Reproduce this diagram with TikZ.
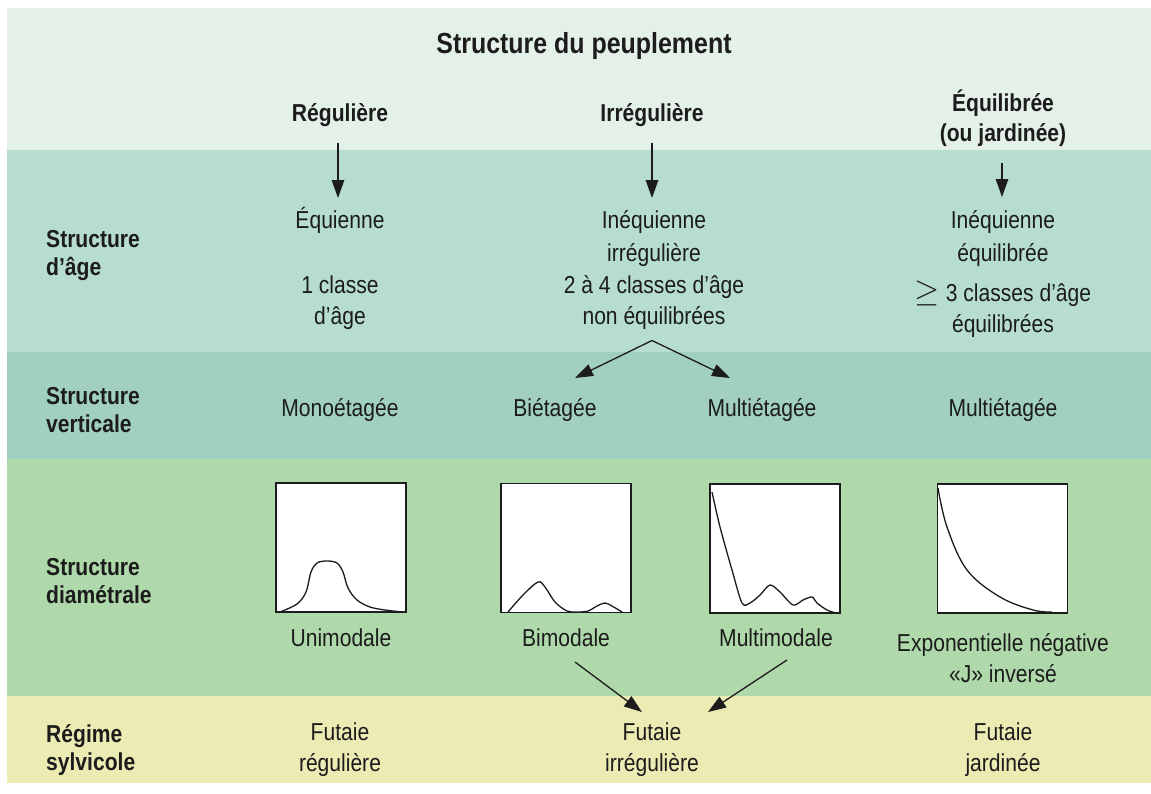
\documentclass[tikz,border=0pt]{standalone}
\usepackage{fontspec}
\usepackage{graphicx}
\setmainfont[FakeStretch=0.86]{Liberation Sans}
\usetikzlibrary{arrows.meta,calc}
\definecolor{bandA}{HTML}{E4F1E8}
\definecolor{bandB}{HTML}{B6DDD0}
\definecolor{bandC}{HTML}{A1D0C3}
\definecolor{bandD}{HTML}{AFD9AA}
\definecolor{bandE}{HTML}{ECEBB4}
\definecolor{ink}{HTML}{1C1C1C}
\begin{document}
\begin{tikzpicture}[x=1pt,y=-1pt,
  every node/.style={inner sep=0pt, text=ink},
  lbl/.style={font=\fontsize{24.5}{28}\selectfont\bfseries, align=left, anchor=west},
  txt/.style={font=\fontsize{24.5}{31}\selectfont, align=center},
  hdr/.style={font=\fontsize{24.5}{30}\selectfont\bfseries, align=center},
  arr/.style={line width=1.3pt, draw=ink, -{Triangle[length=18pt,width=12.5pt]}},
  plotbox/.style={draw=ink, line width=1.6pt, fill=white, minimum width=130pt, minimum height=129pt},
  curve/.style={line width=1.3pt, draw=ink}]
\useasboundingbox (0,0) rectangle (1151,793);
\fill[white] (0,0) rectangle (1151,793);
% bands
\fill[bandA] (7,8) rectangle (1151,150);
\fill[bandB] (7,150) rectangle (1151,352);
\fill[bandC] (7,352) rectangle (1151,459);
\fill[bandD] (7,459) rectangle (1151,696);
\fill[bandE] (7,696) rectangle (1151,783);

% title and column heads
\node[font=\fontsize{29}{30}\selectfont\bfseries] (title) at (584,46) {Structure du peuplement};
\node[hdr] (reg) at (340,115) {Régulière};
\node[hdr] (irr) at (652,115) {Irrégulière};
\node[hdr] (equ) at (1003,118) {Équilibrée\\(ou jardinée)};

% row labels
\node[lbl] (rAge) at (46,256) {Structure\\d'âge};
\node[lbl] (rVert) at (46,410) {Structure\\verticale};
\node[lbl] (rDiam) at (46,581) {Structure\\diamétrale};
\node[lbl] (rReg) at (46,750) {Régime\\sylvicole};

% age structure
\node[txt] (equienne) at (340,220) {Équienne};
\node[txt] (classe1) at (340,303) {1 classe\\d'âge};
\node[txt, font=\fontsize{24.5}{33}\selectfont] (ineq1) at (654,238.5) {Inéquienne\\irrégulière};
\node[txt] (classes2) at (654,302.5) {2 à 4 classes d'âge\\non équilibrées};
\node[txt, font=\fontsize{24.5}{33}\selectfont] (ineq2) at (1003,238.5) {Inéquienne\\équilibrée};
\node[txt] (classes3) at (1003,310.5) {\smash{\scalebox{1.3}{$\geq$}} 3 classes d'âge\\équilibrées};

% vertical structure
\node[txt] (mono) at (340,410) {Monoétagée};
\node[txt] (bi) at (555,410) {Biétagée};
\node[txt] (multi1) at (762,410) {Multiétagée};
\node[txt] (multi2) at (1003,410) {Multiétagée};

% diameter structure boxes
\node[plotbox] (box1) at (341,547.5) {};
\node[plotbox] (box2) at (566,548) {};
\node[plotbox] (box3) at (775,548.5) {};
\node[plotbox] (box4) at (1002.5,548.5) {};
\draw[curve] plot[smooth, tension=0.55] coordinates {(280,612) (297,604) (306,592) (311,572) (317,563) (327,561) (337,563) (343,572) (348,588) (357,600) (370,607) (385,610) (403,612)};
\draw[curve] plot[smooth, tension=0.55] coordinates {(508,612) (523,595) (538,582) (545,587) (555,602) (567,611) (577,612) (588,611) (597,606) (605,603) (612,606) (622,612)};
\draw[curve] plot[smooth, tension=0.5] coordinates {(712,492) (720,527) (732,570) (742,603) (750,603) (760,595) (770,585) (780,592) (793,605) (803,600) (812,597) (817,603) (827,610) (836,613)};
\draw[curve] plot[smooth, tension=0.6] coordinates {(938,488) (947,527) (967,570) (1000,597) (1033,610) (1052,612)};

\node[txt] (uni) at (341,638) {Unimodale};
\node[txt] (bim) at (566,638) {Bimodale};
\node[txt] (mum) at (776,638) {Multimodale};
\node[txt] (expo) at (1003,658) {Exponentielle négative\\«J» inversé};

% regime
\node[txt] (fut1) at (340,750) {Futaie\\régulière};
\node[txt] (fut2) at (652,750) {Futaie\\irrégulière};
\node[txt] (fut3) at (1003,750) {Futaie\\jardinée};

% arrows
\draw[arr] ($(reg.center)+(-2,28)$) -- ($(equienne.center)+(-2,-22)$);
\draw[arr] ($(irr.center)+(0,28)$) -- ($(irr.center)+(0,83)$);
\draw[arr] ($(equ.center)+(-1,45)$) -- ($(equ.center)+(-1,79)$);
\coordinate (apex) at ($(classes2.center)+(-2,38)$);
\draw[arr] (apex) -- ($(bi.center)+(20,-32)$);
\draw[arr] (apex) -- ($(multi1.center)+(-32,-32)$);
\draw[arr] ($(bim.center)+(9,24)$) -- ($(fut2.center)+(-10,-38)$);
\draw[arr] ($(mum.center)+(11,22)$) -- ($(fut2.center)+(56,-38)$);
\end{tikzpicture}
\end{document}
